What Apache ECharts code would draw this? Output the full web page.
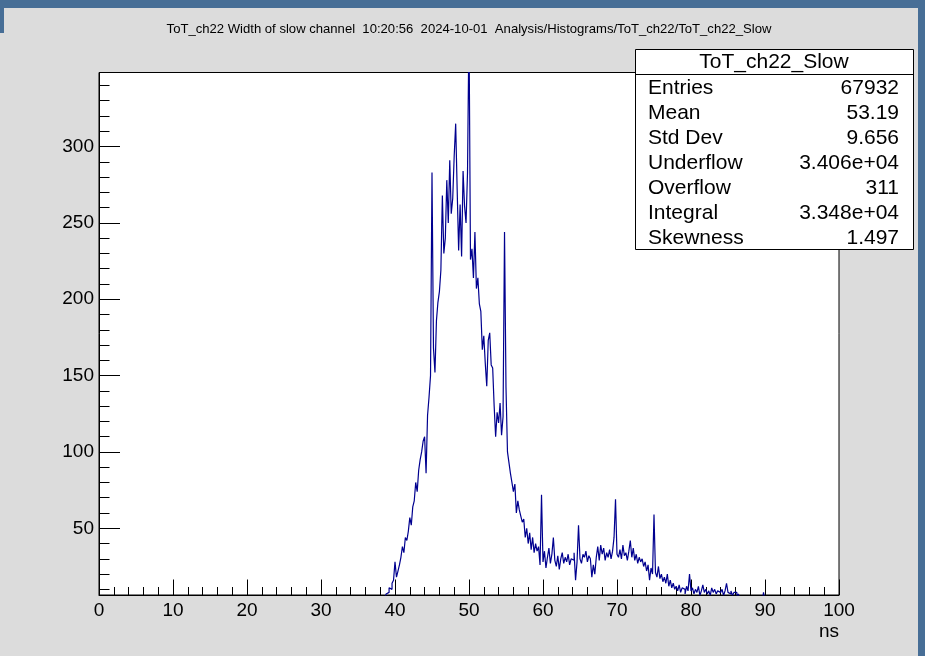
<!DOCTYPE html>
<html>
<head>
<meta charset="utf-8">
<script src="https://cdn.jsdelivr.net/npm/echarts/dist/echarts.min.js"></script>
<style>
html,body{margin:0;padding:0;background:#dcdcdc;}
#chart{width:925px;height:656px;}
</style>
</head>
<body>
<div id="chart"></div>
<script>
// ---- histogram binning (ns) ----
const binLow = 38.0;
const binWidth = 0.2;
// counts per 0.2 ns bin starting at 38.0 ns
const counts = [
  1,2,2,4,7,8,11,10,14,16,            // 38.0
  28,18,22,26,31,38,34,44,42,48,      // 40.0
  57,52,64,68,80,74,88,95,100,107,    // 42.0
  110,86,124,136,150,283,168,152,186,198, // 44.0
  205,219,268,230,240,278,250,291,256,266, // 46.0
  294,315,272,232,262,228,284,261,250,283, // 48.0
  380,226,233,214,244,207,214,197,192,167, // 50.0
  176,158,143,173,178,157,155,130,110,126, // 52.0
  119,132,111,123,244,142,100,93,86,80,    // 54.0
  74,79,60,68,62,58,54,56,44,50,      // 56.0
  40,47,36,44,34,40,35,38,26,72,      // 58.0
  28,35,24,31,37,27,33,44,29,25,      // 60.0
  32,23,30,34,27,31,28,33,26,30,      // 62.0
  29,34,16,28,52,30,27,33,31,35,      // 64.0
  28,32,30,18,26,20,31,38,29,39,      // 66.0
  33,37,29,34,31,36,30,35,44,69,      // 68.0
  33,31,36,30,39,32,34,29,35,42,      // 70.0
  31,37,29,33,27,31,28,30,25,28,      // 72.0
  22,26,16,24,20,59,21,18,25,17,      // 74.0
  20,15,18,14,20,12,16,11,14,10,      // 76.0
  12,9,13,8,11,10,7,12,9,20,          // 78.0
  9,11,7,10,8,12,6,9,13,8,            // 80.0
  10,7,9,6,11,8,10,7,9,8,             // 82.0
  7,10,6,9,14,8,7,9,6,8,              // 84.0
  8,5,7,4,3,2,4,2,3,2,                // 86.0
  3,2,1,2,3,1,2,1,2,8,                // 88.0
  2,1,0,1,0                           // 90.0
];

// ---- axes ----
const xMin = 0, xMax = 100, xStep = 10;
const yMin = 6.3, yMax = 348.5;
const yMajorTicks = [50, 100, 150, 200, 250, 300];
const yMinorTicks = [10,20,30,40,60,70,80,90,110,120,130,140,160,170,180,190,210,220,230,240,260,270,280,290,310,320,330,340];
const xAxisTitle = 'ns';

// ---- texts ----
const titleText = 'ToT_ch22 Width of slow channel  10:20:56  2024-10-01  Analysis/Histograms/ToT_ch22/ToT_ch22_Slow';
const statsName = 'ToT_ch22_Slow';
const statsLabels = ['Entries', 'Mean', 'Std Dev', 'Underflow', 'Overflow', 'Integral', 'Skewness'];
const statsValues = ['67932', '53.19', '9.656', '3.406e+04', '311', '3.348e+04', '1.497'];

// build step data from bins
const stepData = [];
stepData.push([binLow, 0]);
for (let i = 0; i < counts.length; i++) {
  stepData.push([binLow + i * binWidth, counts[i]]);
}
stepData.push([binLow + counts.length * binWidth, 0]);

const FONT = '"Liberation Sans", Arial, Helvetica, sans-serif';
const chart = echarts.init(document.getElementById('chart'), null, {renderer: 'canvas'});

const graphics = [
  // window frame (blue)
  {type: 'rect', shape: {x: 0, y: 0, width: 925, height: 8}, style: {fill: '#476e96'}, z: 100, silent: true},
  {type: 'rect', shape: {x: 0, y: 0, width: 4, height: 33}, style: {fill: '#476e96'}, z: 100, silent: true},
  {type: 'rect', shape: {x: 918, y: 0, width: 7, height: 656}, style: {fill: '#476e96'}, z: 100, silent: true},
  // title
  {type: 'text', x: 469, y: 29, style: {text: titleText, font: '13.1px ' + FONT, fill: '#000', align: 'center', verticalAlign: 'middle', textAlign: 'center', textVerticalAlign: 'middle'}, z: 50, silent: true},
  // x axis title
  {type: 'text', x: 839, y: 632, style: {text: xAxisTitle, font: '19px ' + FONT, fill: '#000', align: 'right', verticalAlign: 'middle', textAlign: 'right', textVerticalAlign: 'middle'}, z: 50, silent: true},
  // stats box
  {type: 'rect', shape: {x: 635.5, y: 49.5, width: 278, height: 200}, style: {fill: '#fff', stroke: '#000', lineWidth: 1}, z: 60, silent: true},
  {type: 'line', shape: {x1: 635.5, y1: 74.5, x2: 913.5, y2: 74.5}, style: {stroke: '#000', lineWidth: 1}, z: 61, silent: true},
  {type: 'text', x: 774, y: 62, style: {text: statsName, font: '21px ' + FONT, fill: '#000', align: 'center', verticalAlign: 'middle', textAlign: 'center', textVerticalAlign: 'middle'}, z: 62, silent: true}
];
statsLabels.forEach(function (lab, i) {
  graphics.push({type: 'text', x: 648, y: 88.5 + i * 25, style: {text: lab, font: '21px ' + FONT, fill: '#000', align: 'left', verticalAlign: 'middle', textAlign: 'left', textVerticalAlign: 'middle'}, z: 62, silent: true});
  graphics.push({type: 'text', x: 899, y: 88.5 + i * 25, style: {text: statsValues[i], font: '21px ' + FONT, fill: '#000', align: 'right', verticalAlign: 'middle', textAlign: 'right', textVerticalAlign: 'middle'}, z: 62, silent: true});
});

const option = {
  animation: false,
  backgroundColor: '#dcdcdc',
  grid: {
    left: 99, top: 72.5, width: 740, height: 522.5,
    show: true, backgroundColor: '#ffffff', borderColor: '#000', borderWidth: 1,
    containLabel: false, outerBoundsMode: 'none'
  },
  xAxis: {
    type: 'value', min: xMin, max: xMax, interval: xStep,
    axisLine: {show: true, lineStyle: {color: '#000', width: 1}},
    axisTick: {show: true, inside: true, length: 15.5, lineStyle: {color: '#000', width: 1}},
    minorTick: {show: true, splitNumber: 5, length: 8, lineStyle: {color: '#000', width: 1}},
    axisLabel: {show: true, color: '#000', fontSize: 19, fontFamily: FONT, margin: 6, showMinLabel: true, showMaxLabel: true},
    splitLine: {show: false}, minorSplitLine: {show: false}
  },
  yAxis: [
    {
      type: 'value', min: yMin, max: yMax, position: 'left',
      axisLine: {show: true, lineStyle: {color: '#000', width: 1}},
      axisTick: {show: true, inside: true, length: 21, customValues: yMajorTicks, lineStyle: {color: '#000', width: 1}},
      axisLabel: {show: true, color: '#000', fontSize: 19, fontFamily: FONT, margin: 5, customValues: yMajorTicks},
      splitLine: {show: false}
    },
    {
      type: 'value', min: yMin, max: yMax, position: 'left', offset: 0,
      axisLine: {show: false},
      axisTick: {show: true, inside: true, length: 10.5, customValues: yMinorTicks, lineStyle: {color: '#000', width: 1}},
      axisLabel: {show: false},
      splitLine: {show: false}
    }
  ],
  series: [{
    type: 'line', step: 'end', xAxisIndex: 0, yAxisIndex: 0,
    data: stepData, showSymbol: false, symbol: 'none', clip: true,
    sampling: null,
    lineStyle: {color: '#00008f', width: 1.2},
    z: 10
  }],
  graphic: graphics
};
chart.setOption(option);
</script>
</body>
</html>
